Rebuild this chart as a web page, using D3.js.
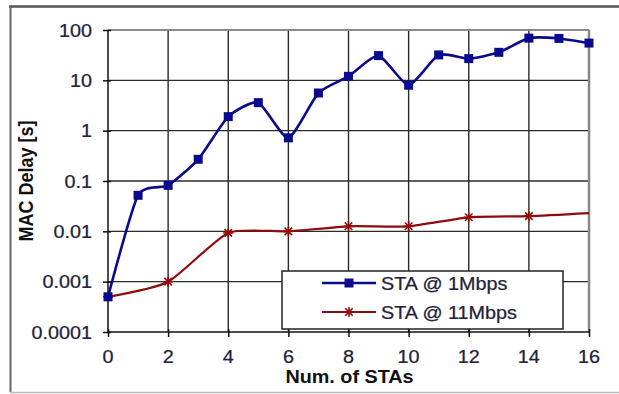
<!DOCTYPE html>
<html><head><meta charset="utf-8">
<script src="https://cdn.jsdelivr.net/npm/d3@7"></script>
<style>html,body{margin:0;padding:0;background:#fff;}svg{display:block;}</style>
</head><body>
<svg id="c" width="619" height="394"></svg>
<script>
const xTicks = [0,2,4,6,8,10,12,14,16];
const yTicks = [0.0001,0.001,0.01,0.1,1,10,100];
const yTickLabels = ["0.0001","0.001","0.01","0.1","1","10","100"];
const blueX = [0,1,2,3,4,5,6,7,8,9,10,11,12,13,14,15,16];
const blueY = [0.0005,0.052,0.082,0.27,1.9,3.6,0.72,5.6,12,31,8,32,27,36,69,68,55];
const redX = [0,2,4,6,8,10,12,14,16];
const redY = [0.0005,0.001,0.0093,0.01,0.0126,0.0126,0.019,0.02,0.023];
const seriesNames = ["STA @ 1Mbps","STA @ 11Mbps"];
const xTitle = "Num. of STAs";
const yTitle = "MAC Delay [s]";

const svg = d3.select("#c");
const L=108,R=589,T=30,B=332;
const x = d3.scaleLinear().domain([0,16]).range([L,R]);
const y = d3.scaleLog().domain([0.0001,100]).range([B,T]);
const txtCol = "#22223a";
const font = "Liberation Sans, Arial, sans-serif";

// outer frame
svg.append("line").attr("x1",9).attr("x2",619).attr("y1",6.5).attr("y2",6.5).attr("stroke","#555").attr("stroke-width",2.5);
svg.append("line").attr("x1",10.5).attr("x2",10.5).attr("y1",6).attr("y2",392).attr("stroke","#666").attr("stroke-width",2);
svg.append("line").attr("x1",10).attr("x2",619).attr("y1",392.5).attr("y2",392.5).attr("stroke","#bbb").attr("stroke-width",1.5);

// grid
const g = svg.append("g");
g.selectAll(".vg").data(xTicks.filter(d=>d>0&&d<16)).join("line")
  .attr("x1",d=>x(d)).attr("x2",d=>x(d)).attr("y1",T).attr("y2",B)
  .attr("stroke","#2a2a2a").attr("stroke-width",1.4);
g.selectAll(".hg").data(yTicks.filter(d=>d>0.0001)).join("line")
  .attr("x1",L).attr("x2",R).attr("y1",d=>y(d)).attr("y2",d=>y(d))
  .attr("stroke","#2a2a2a").attr("stroke-width",1.4);
// plot frame right/top (gray)
g.append("line").attr("x1",R).attr("x2",R).attr("y1",T).attr("y2",B).attr("stroke","#888").attr("stroke-width",2.5);
g.append("line").attr("x1",L).attr("x2",R).attr("y1",T).attr("y2",T).attr("stroke","#999").attr("stroke-width",1.5);

// axes
const xAxis = d3.axisBottom(x).tickValues(xTicks).tickSize(5).tickFormat("");
const xa = svg.append("g").attr("transform",`translate(0,${B})`).call(xAxis);
xa.select(".domain").attr("stroke","#111").attr("stroke-width",1.5).attr("d",`M${L},0H${R}`);
xa.selectAll(".tick line").attr("stroke","#111").attr("stroke-width",1.5).attr("y1",-3);
const yAxis = d3.axisLeft(y).tickValues(yTicks).tickSize(5).tickFormat("");
const ya = svg.append("g").attr("transform",`translate(${L},0)`).call(yAxis);
ya.select(".domain").attr("stroke","#111").attr("stroke-width",1.5).attr("d",`M0,${B}V${T}`);
ya.selectAll(".tick line").attr("stroke","#111").attr("stroke-width",1.5).attr("x1",3);

// tick labels (slightly stretched horizontally)
svg.selectAll(".xl").data(xTicks).join("text")
  .attr("transform",d=>`translate(${x(d)},363) scale(1.1,1)`)
  .attr("text-anchor","middle").attr("font-family",font).attr("font-size",18)
  .attr("fill",txtCol).attr("stroke",txtCol).attr("stroke-width",0.25).text(d=>d);
svg.selectAll(".yl").data(yTicks).join("text")
  .attr("transform",d=>`translate(92,${y(d)+6.5}) scale(1.1,1)`)
  .attr("text-anchor","end").attr("font-family",font).attr("font-size",18)
  .attr("fill",txtCol).attr("stroke",txtCol).attr("stroke-width",0.25).text((d,i)=>yTickLabels[i]);

// titles
svg.append("text").attr("transform",`translate(${(L+R)/2+1},383) scale(1.1,1)`)
  .attr("text-anchor","middle").attr("font-family",font).attr("font-size",18).attr("font-weight","bold")
  .attr("fill","#111").text(xTitle);
svg.append("text").attr("transform",`translate(33,${(T+B)/2}) scale(1.1,1) rotate(-90)`)
  .attr("text-anchor","middle").attr("font-family",font).attr("font-size",18).attr("font-weight","bold")
  .attr("fill","#111").text(yTitle);

// lines
const blue = "#0a0a8c", red = "#8f0b0b";
const line = d3.line().x(d=>x(d[0])).y(d=>y(d[1])).curve(d3.curveCardinal.tension(0.4));
const bData = blueX.map((v,i)=>[v,blueY[i]]);
const rData = redX.map((v,i)=>[v,redY[i]]);
svg.append("path").attr("d",line(rData)).attr("fill","none").attr("stroke",red).attr("stroke-width",2.2);
svg.append("path").attr("d",line(bData)).attr("fill","none").attr("stroke",blue).attr("stroke-width",2.6);

function star(sel,cx,cy,r){
  const gg = sel.append("g").attr("transform",`translate(${cx},${cy})`).attr("stroke",red).attr("stroke-width",1.6);
  gg.append("line").attr("x1",-r).attr("x2",r).attr("y1",0).attr("y2",0);
  gg.append("line").attr("x1",0).attr("x2",0).attr("y1",-r).attr("y2",r);
  gg.append("line").attr("x1",-r*0.75).attr("x2",r*0.75).attr("y1",-r*0.75).attr("y2",r*0.75);
  gg.append("line").attr("x1",-r*0.75).attr("x2",r*0.75).attr("y1",r*0.75).attr("y2",-r*0.75);
}
rData.slice(0,-1).forEach(d=>star(svg,x(d[0]),y(d[1]),5));
svg.selectAll(".bm").data(bData).join("rect")
  .attr("x",d=>x(d[0])-4.5).attr("y",d=>y(d[1])-4.5).attr("width",9).attr("height",9).attr("fill",blue);

// legend
const lg = svg.append("g");
lg.append("rect").attr("x",282).attr("y",271).attr("width",281).attr("height",58)
  .attr("fill","#fff").attr("stroke","#222").attr("stroke-width",1.5);
const ly = [283,312];
lg.append("line").attr("x1",322).attr("x2",376).attr("y1",ly[0]).attr("y2",ly[0]).attr("stroke",blue).attr("stroke-width",2.6);
lg.append("rect").attr("x",349-4.5).attr("y",ly[0]-4.5).attr("width",9).attr("height",9).attr("fill",blue);
lg.append("line").attr("x1",322).attr("x2",376).attr("y1",ly[1]).attr("y2",ly[1]).attr("stroke",red).attr("stroke-width",2.2);
star(lg,349,ly[1],5);
seriesNames.forEach((n,i)=>{
  lg.append("text").attr("transform",`translate(381,${ly[i]+6.5}) scale(1.1,1)`)
    .attr("font-family",font).attr("font-size",18).attr("fill",txtCol)
    .attr("stroke",txtCol).attr("stroke-width",0.25).text(n);
});
</script>
</body></html>
